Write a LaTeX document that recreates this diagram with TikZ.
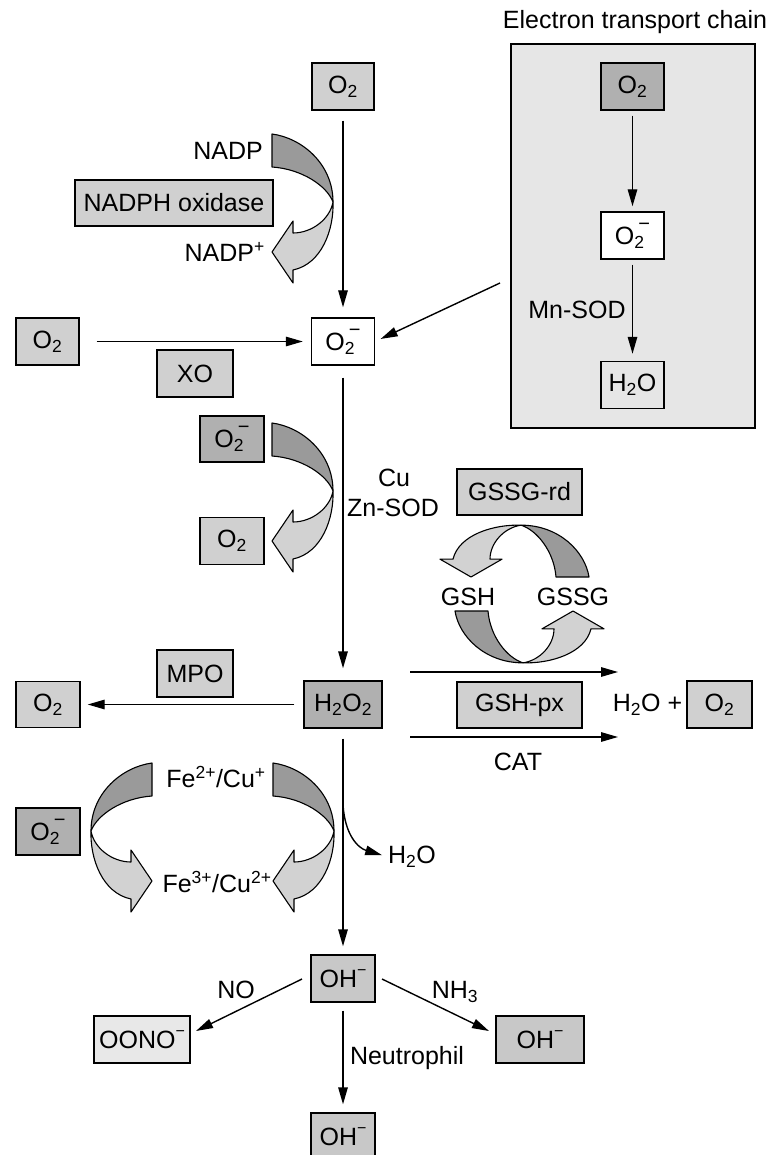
\documentclass[tikz,border=0pt]{standalone}
\usepackage{fontspec}
\setmainfont{Liberation Sans}
\usetikzlibrary{arrows.meta}
\definecolor{boxL}{HTML}{D0D0D0}
\definecolor{boxD}{HTML}{B0B0B0}
\definecolor{boxM}{HTML}{C8C8C8}
\definecolor{boxVL}{HTML}{E8E8E8}
\definecolor{etcbg}{HTML}{E6E6E6}
\definecolor{ribD}{HTML}{9A9A9A}
\definecolor{ribL}{HTML}{D2D2D2}
\newcommand\bigminus{\raisebox{14pt}{\fontsize{20}{20}\selectfont −}}
\newcommand\smallminus{\raisebox{12.5pt}{\fontsize{16}{16}\selectfont −}}
\newcommand\subminus[1]{\rlap{\textsubscript{#1}}\,\bigminus}
\newcommand\ribbonshape{%
  \filldraw[ribd] (0,0) .. controls (30,4) and (61,30) .. (61,68)
     .. controls (55,52) and (30,35) .. (0,33) -- cycle;
  \filldraw[ribl] (61,68) .. controls (62,95) and (50,130) .. (21,136)
     -- (21,149) -- (0,118) -- (21,87) -- (21,99)
     .. controls (40,99) and (58,85) .. (61,68) -- cycle;
}
\begin{document}
\begin{tikzpicture}[x=1pt,y=-1pt,
  font=\fontsize{25}{29}\selectfont,
  box/.style={draw=black, line width=1.4pt, inner sep=0pt, minimum height=47pt},
  lbl/.style={inner sep=0pt},
  arr/.style={line width=1.4pt, -{Triangle[length=17pt,width=9.5pt]}},
  ribd/.style={fill=ribD, draw=black, line width=1.1pt, line join=round},
  ribl/.style={fill=ribL, draw=black, line width=1.1pt, line join=round}]
\fill[white] (0,0) rectangle (767,1155);
\useasboundingbox (0,0) rectangle (767,1155);

% Electron transport chain
\node[lbl] (title) at (635,22) {Electron transport chain};
\node[draw=black, line width=1.4pt, fill=etcbg, minimum width=244pt, minimum height=384pt, inner sep=0pt] (etc) at (633,236) {};
\node[box, fill=boxD, minimum width=63pt] (eO2) at (632.5,86.5) {O\textsubscript{2}};
\node[box, fill=white, minimum width=63pt] (eO2m) at (632.5,235.5) {O\subminus{2}};
\node[box, fill=etcbg, minimum width=63pt] (eH2O) at (632.5,385) {H\textsubscript{2}O};
\node[lbl] (mnsod) at (577,310) {Mn-SOD};
\draw[arr, shorten <=5pt, shorten >=5pt] (eO2) -- (eO2m);
\draw[arr, shorten <=5pt, shorten >=7pt] (eO2m) -- (eH2O);

% top column
\node[box, fill=boxL, minimum width=62pt] (tO2) at (343,86.5) {O\textsubscript{2}};
\node[box, fill=boxL, minimum width=198pt, minimum height=46pt] (nadph) at (174,203) {NADPH oxidase};
\node[lbl, anchor=base east] (nadp) at (263,160) {NADP};
\node[lbl, anchor=base east] (nadpp) at (265,262) {NADP\textsuperscript{+}};
\node[box, fill=white, minimum width=63pt] (c2) at (343,341.5) {O\subminus{2}};
\node[box, fill=boxL, minimum width=63pt] (lO2) at (47.5,341.5) {O\textsubscript{2}};
\node[box, fill=boxL, minimum width=76pt] (xo) at (195,373.5) {XO};
\coordinate (etcs) at (500,283);
\draw[arr, shorten <=10pt, shorten >=10pt] (tO2) -- (c2);
\draw[arr, shorten <=17pt, shorten >=8pt] (lO2) -- (c2);
\draw[arr, shorten >=6pt] (etcs) -- (c2.east);
\begin{scope}[shift={(272,134)}]\ribbonshape\end{scope}

% SOD
\node[box, fill=boxD, minimum width=64pt, minimum height=46pt] (sO2m) at (232,439) {O\subminus{2}};
\node[box, fill=boxL, minimum width=64pt] (sO2) at (232,541) {O\textsubscript{2}};
\node[lbl] (cu) at (394,478) {Cu};
\node[lbl] (znsod) at (393,508) {Zn-SOD};
\begin{scope}[shift={(272,423)}]\ribbonshape\end{scope}

% H2O2
\node[box, fill=boxD, minimum width=78pt] (h2o2) at (343,704.5) {H\textsubscript{2}O\textsubscript{2}};
\draw[arr, shorten <=12pt, shorten >=12pt] (c2) -- (h2o2);
\node[box, fill=boxL, minimum width=76pt] (mpo) at (195,673.5) {MPO};
\node[box, fill=boxL, minimum width=64pt, minimum height=46pt] (mO2) at (48,704.5) {O\textsubscript{2}};
\draw[arr, shorten <=9pt, shorten >=7pt] (h2o2) -- (mO2);

% glutathione cycle
\node[box, fill=boxL, minimum width=125pt, minimum height=46pt] (gssgrd) at (519.5,492) {GSSG-rd};
\node[lbl] (gsh) at (468,597) {GSH};
\node[lbl] (gssg) at (573,597) {GSSG};
\begin{scope}[shift={(589,577)}, cm={0,0.85,1,0,(0,0)}]\ribbonshape\end{scope}
\begin{scope}[shift={(455,611)}, cm={0,-0.85,-1,0,(0,0)}]\ribbonshape\end{scope}
\node[box, fill=boxL, minimum width=125pt, minimum height=46pt] (gshpx) at (519.5,705) {GSH-px};
\node[lbl] (cat) at (518,762) {CAT};
\node[lbl] (h2oplus) at (647.5,705) {H\textsubscript{2}O +};
\node[box, fill=boxL, minimum width=65pt] (rO2) at (719.5,704.5) {O\textsubscript{2}};
\coordinate (g1s) at (410,672);
\coordinate (g1e) at (618,672);
\coordinate (g2s) at (410,737);
\coordinate (g2e) at (618,737);
\draw[arr] (g1s) -- (g1e);
\draw[arr] (g2s) -- (g2e);

% Fenton
\node[lbl] (fe2) at (216,777) {Fe\textsuperscript{2+}/Cu\textsuperscript{+}};
\node[lbl] (fe3) at (217,882) {Fe\textsuperscript{3+}/Cu\textsuperscript{2+}};
\node[box, fill=boxD, minimum width=64pt] (fO2m) at (48,831.5) {O\subminus{2}};
\begin{scope}[shift={(273,763)}]\ribbonshape\end{scope}
\begin{scope}[shift={(152,763)}, xscale=-1]\ribbonshape\end{scope}
\node[lbl] (h2oc) at (412,857) {H\textsubscript{2}O};
\coordinate (hcs) at (343,805);
\draw[arr, shorten >=6pt] (hcs) .. controls (345,835) and (358,848) .. (h2oc.west);

% hydroxyl
\node[box, fill=boxM, minimum width=64pt] (oh) at (343,978.5) {OH\smallminus};
\draw[arr, shorten <=10pt, shorten >=8pt] (h2o2) -- (oh);
\node[box, fill=boxVL, minimum width=96pt] (oono) at (142,1039.5) {OONO\smallminus};
\node[box, fill=boxM, minimum width=88pt] (roh) at (540,1039.5) {OH\smallminus};
\node[box, fill=boxM, minimum width=64pt] (boh) at (343,1136.5) {OH\smallminus};
\node[lbl] (no) at (236,990) {NO};
\node[lbl] (nh3) at (455,992) {NH\textsubscript{3}};
\node[lbl] (neut) at (407,1058) {Neutrophil};
\coordinate (lsA) at (302,979);
\coordinate (lsB) at (196,1031);
\coordinate (rsA) at (382,979);
\coordinate (rsB) at (489,1031);
\draw[arr] (lsA) -- (lsB);
\draw[arr] (rsA) -- (rsB);
\draw[arr, shorten <=8pt, shorten >=8pt] (oh) -- (boh);
\end{tikzpicture}
\end{document}
